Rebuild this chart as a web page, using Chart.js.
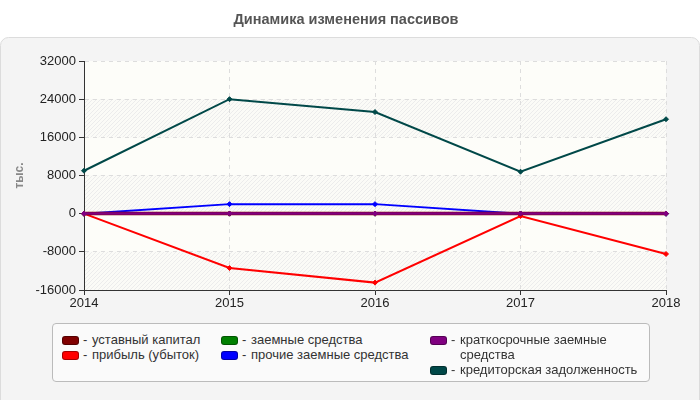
<!DOCTYPE html>
<html>
<head>
<meta charset="utf-8">
<script src="https://cdn.jsdelivr.net/npm/chart.js@4.4.1/dist/chart.umd.min.js"></script>
<style>
  body { margin: 0; background: #fff; font-family: "Liberation Sans", Arial, sans-serif; }
  #wrap { position: relative; width: 700px; height: 400px; }
  #legend {
    position: absolute; left: 52px; top: 323px; width: 598px; height: 59px;
    background: #fafafa; border: 1px solid #bbb; border-radius: 4px;
    font-size: 13px; color: #333; box-sizing: border-box;
  }
  #legend .col { position: absolute; top: 8px; }
  #legend .item { position: relative; padding-left: 30px; line-height: 15px; }
  #legend .sw {
    position: absolute; left: 0; top: 4px; width: 17px; height: 9px;
    border-radius: 3px; box-sizing: border-box; border: 1px solid rgba(0,0,0,.35);
  }
  #legend .item span.dash { position: absolute; left: 21px; }
</style>
</head>
<body>
<div id="wrap">
  <canvas id="chart" width="700" height="400"></canvas>
  <div id="legend"></div>
</div>
<script>
var years = ['2014', '2015', '2016', '2017', '2018'];

var ustavnyi = [10, 10, 10, 10, 10];
var pribyl = [0, -11400, -14450, -500, -8450];
var zaemnye = [0, 0, 0, 0, 0];
var prochieZaemnye = [0, 2000, 2000, 0, 0];
var kratkosrochnye = [20, 20, 20, 20, 20];
var kreditorskaya = [9000, 24000, 21300, 8800, 19800];

var yTicks = [-16000, -8000, 0, 8000, 16000, 24000, 32000];

var series = [
  { label: 'уставный капитал', data: ustavnyi, color: '#800000', width: 3.5, order: 1 },
  { label: 'прибыль (убыток)', data: pribyl, color: '#ff0000', width: 2, order: 2 },
  { label: 'заемные средства', data: zaemnye, color: '#008000', width: 2, order: 3 },
  { label: 'прочие заемные средства', data: prochieZaemnye, color: '#0000ff', width: 2, order: 2 },
  { label: 'краткосрочные заемные средства', data: kratkosrochnye, color: '#800080', width: 2.5, order: 0 },
  { label: 'кредиторская задолженность', data: kreditorskaya, color: '#004848', width: 2, order: 1 }
];

var FONT = '"Liberation Sans", Arial, sans-serif';

// hatch pattern for alternate bands
function makeHatch() {
  var c = document.createElement('canvas');
  c.width = 4; c.height = 4;
  var g = c.getContext('2d');
  g.fillStyle = '#fbfbf7';
  g.fillRect(0, 0, 4, 4);
  g.strokeStyle = '#ececec';
  g.lineWidth = 1;
  g.beginPath();
  g.moveTo(0, 4); g.lineTo(4, 0);
  g.stroke();
  return g.createPattern(c, 'repeat');
}

var backdrop = {
  id: 'backdrop',
  beforeDraw: function(chart) {
    var ctx = chart.ctx;
    ctx.save();
    ctx.fillStyle = '#f4f4f4';
    ctx.strokeStyle = '#dcdcdc';
    ctx.beginPath();
    ctx.roundRect(0.5, 37.5, 699, 380, 8);
    ctx.fill();
    ctx.stroke();

    var a = chart.chartArea;
    var y = chart.scales.y;
    ctx.fillStyle = '#fdfdf9';
    ctx.fillRect(a.left, a.top, a.right - a.left, a.bottom - a.top);
    ctx.fillStyle = makeHatch();
    for (var i = 0; i < yTicks.length - 1; i += 2) {
      var y0 = y.getPixelForValue(yTicks[i]);
      var y1 = y.getPixelForValue(yTicks[i + 1]);
      ctx.fillRect(a.left, y1, a.right - a.left, y0 - y1);
    }
    ctx.restore();
  }
};

var ctx = document.getElementById('chart');
var chart = new Chart(ctx, {
  type: 'line',
  data: {
    labels: years,
    datasets: series.map(function(s) {
      return {
        label: s.label,
        data: s.data,
        borderColor: s.color,
        backgroundColor: s.color,
        borderWidth: s.width,
        order: s.order,
        pointStyle: 'rectRot',
        pointRadius: 2.5,
        pointBorderWidth: 1,
        fill: false,
        tension: 0
      };
    })
  },
  plugins: [backdrop],
  options: {
    responsive: false,
    animation: false,
    layout: { padding: { left: 8, right: 16, top: 0, bottom: 90 } },
    plugins: {
      legend: { display: false },
      tooltip: { enabled: false },
      title: {
        display: true,
        text: 'Динамика изменения пассивов',
        color: '#555',
        font: { family: FONT, size: 14.5, weight: 'bold' },
        padding: { top: 11, bottom: 32.6 }
      }
    },
    scales: {
      x: {
        offset: false,
        grid: { color: '#dddddd', tickColor: '#333', tickLength: 5 },
        border: { color: '#333', width: 1, dash: [4, 4] },
        ticks: { color: '#222', padding: 1, font: { family: FONT, size: 13 } },
        afterFit: function(s) { s.height = 20; }
      },
      y: {
        min: -16000,
        max: 32000,
        afterBuildTicks: function(s) { s.ticks = yTicks.map(function(v) { return { value: v }; }); },
        grid: { color: '#dddddd', tickColor: '#333', tickLength: 5 },
        border: { color: '#333', width: 1, dash: [4, 4] },
        ticks: {
          color: '#222', padding: 3, font: { family: FONT, size: 13 },
          callback: function(v) { return String(v); }
        },
        title: {
          display: true,
          text: 'тыс.',
          color: '#888',
          font: { family: FONT, size: 12, weight: 'bold' },
          padding: { top: 4, bottom: 4 }
        },
        afterFit: function(s) { s.width = 76; }
      },
      // empty right-hand spacer so the title centres like the source
      yr: {
        position: 'right',
        min: -16000,
        max: 32000,
        grid: { display: false, drawTicks: false },
        border: { display: false },
        ticks: { display: false },
        afterFit: function(s) { s.width = 18; }
      }
    }
  }
});

// html legend, three columns as in the source
var cols = [[0, 1], [2, 3], [4, 5]];
var colLeft = [9, 168, 377];
var colWidth = [150, 205, 232];
var legend = document.getElementById('legend');
cols.forEach(function(idx, c) {
  var col = document.createElement('div');
  col.className = 'col';
  col.style.left = colLeft[c] + 'px';
  col.style.width = colWidth[c] + 'px';
  idx.forEach(function(i) {
    var ds = chart.data.datasets[i];
    var item = document.createElement('div');
    item.className = 'item';
    item.innerHTML = '<span class="sw" style="background:' + ds.borderColor + '"></span>' +
      '<span class="dash">-</span>' + ds.label;
    col.appendChild(item);
  });
  legend.appendChild(col);
});
</script>
</body>
</html>
